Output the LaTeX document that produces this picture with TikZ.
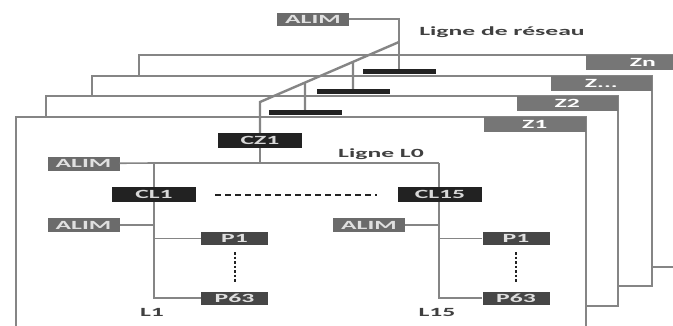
\documentclass[tikz,border=0pt]{standalone}
\usepackage{fontspec}
\usepackage{graphicx}
\usepackage{tikz}
\usetikzlibrary{positioning,calc}
\setmainfont{Carlito}
\definecolor{linegray}{HTML}{858585}
\definecolor{alimgray}{HTML}{6B6B6B}
\definecolor{zgray}{HTML}{767676}
\definecolor{postgray}{HTML}{464646}
\definecolor{ctrlblack}{HTML}{222222}
\definecolor{txtgray}{HTML}{404040}
\newcommand{\wide}[1]{\scalebox{2.05}[1]{#1}}

\begin{document}
\begin{tikzpicture}[x=1pt,y=-1pt,
  every node/.style={font=\fontsize{12.5}{13}\selectfont\bfseries, inner sep=0pt},
  panel/.style={draw=linegray, line width=2.8pt, fill=white},
  wire/.style={draw=linegray, line width=2.4pt},
  thinwire/.style={draw=linegray, line width=1.6pt},
  alim/.style={fill=alimgray, text=white!88!black, minimum width=72, minimum height=13},
  zlabel/.style={fill=zgray, text=white, minimum height=15, anchor=north east},
  ctrl/.style={fill=ctrlblack, text=white!85!black, minimum width=84, minimum height=15},
  post/.style={fill=postgray, text=white!88!black, minimum width=67, minimum height=13},
  busbar/.style={fill=ctrlblack, minimum width=73, minimum height=5},
  caption/.style={text=txtgray}]
\useasboundingbox (0,0) rectangle (673,325);
\clip (0,0) rectangle (673,325);
\fill[white] (0,0) rectangle (673,325);

\draw[panel] (139,55) rectangle (700,267);
\draw[panel] (92,76) rectangle (652,286);
\draw[panel] (46,96) rectangle (618,306);
\draw[panel] (16,117) rectangle (586,345);
\node[zlabel, minimum width=114] (zn) at (700,55) {\wide{Zn}};
\node[zlabel, minimum width=101] (zd) at (652,76) {\wide{Z...}};
\node[zlabel, minimum width=101] (z2) at (618,96) {\wide{Z2}};
\node[zlabel, minimum width=102] (z1) at (586,117) {\wide{Z1}};

% ligne de reseau
\node[alim] (alim0) at (313,19) {\wide{ALIM}};
\node[caption] (reseau) at (502,32) {\wide{Ligne de réseau}};
\coordinate (fork) at (399,42);
\coordinate (kink) at (260,102);
\node[busbar] (barn) at (399,71.5) {};
\node[busbar] (bard) at (353,91.5) {};
\node[busbar] (bar2) at (305,112.5) {};
\node[ctrl] (cz1) at (260,140.5) {\wide{CZ1}};
\draw[thinwire, line width=1.1pt] (alim0) -| (fork);
\draw[wire] (fork) -- (barn.north);
\draw[wire] (fork) -- (kink) -- (cz1.north);
\draw[wire] (intersection of fork--kink and bard.north--bard.south) -- (bard.north);
\draw[wire] (intersection of fork--kink and bar2.north--bar2.south) -- (bar2.north);

% ligne L0
\node[caption] (l0) at (381,154.5) {\wide{Ligne L0}};
\coordinate (top1) at (154,163);
\coordinate (top15) at (439,163);
\node[alim, minimum height=14] (alimL0) at (83.5,163.5) {\wide{ALIM}};
\node[ctrl] (cl1) at (154,194.5) {\wide{CL1}};
\node[ctrl] (cl15) at (440,194.5) {\wide{CL15}};
\node[alim, minimum height=14] (alim1) at (83.5,225) {\wide{ALIM}};
\node[alim, minimum height=14] (alim15) at (369,225) {\wide{ALIM}};
\node[post] (p1a) at (234.5,238.5) {\wide{P1}};
\node[post] (p63a) at (234.5,298) {\wide{P63}};
\node[post] (p1b) at (516,238.5) {\wide{P1}};
\node[post] (p63b) at (516,298) {\wide{P63}};
\node[caption] (l1) at (152,312) {\wide{L1}};
\node[caption] (l15) at (437,312) {\wide{L15}};

\draw[wire] (cz1.south) -- (cz1 |- top1);
\draw[thinwire] (alimL0) -- (top1);
\draw[wire] (top1) -- (top15);
\draw[wire] (top1) |- (p63a);
\draw[wire] (top15) |- (p63b);
\draw[thinwire] (alim1) -- (alim1 -| top1);
\draw[thinwire] (alim15) -- (alim15 -| top15);
\draw[thinwire] (p1a) -- (p1a -| top1);
\draw[thinwire] (p1b) -- (p1b -| top15);
\node[ctrl] at (cl1) {\wide{CL1}};
\node[ctrl] at (cl15) {\wide{CL15}};
\draw[ctrlblack, line width=2pt, dash pattern=on 6pt off 4pt, shorten <=19pt, shorten >=21pt] (cl1.east) -- (cl15.west);
\draw[ctrlblack, line width=2pt, dash pattern=on 2.5pt off 2pt, shorten <=7pt, shorten >=8pt] (p1a.south) -- (p63a.north);
\draw[ctrlblack, line width=2pt, dash pattern=on 2.5pt off 2pt, shorten <=7pt, shorten >=8pt] (p1b.south) -- (p63b.north);
\end{tikzpicture}
\end{document}
